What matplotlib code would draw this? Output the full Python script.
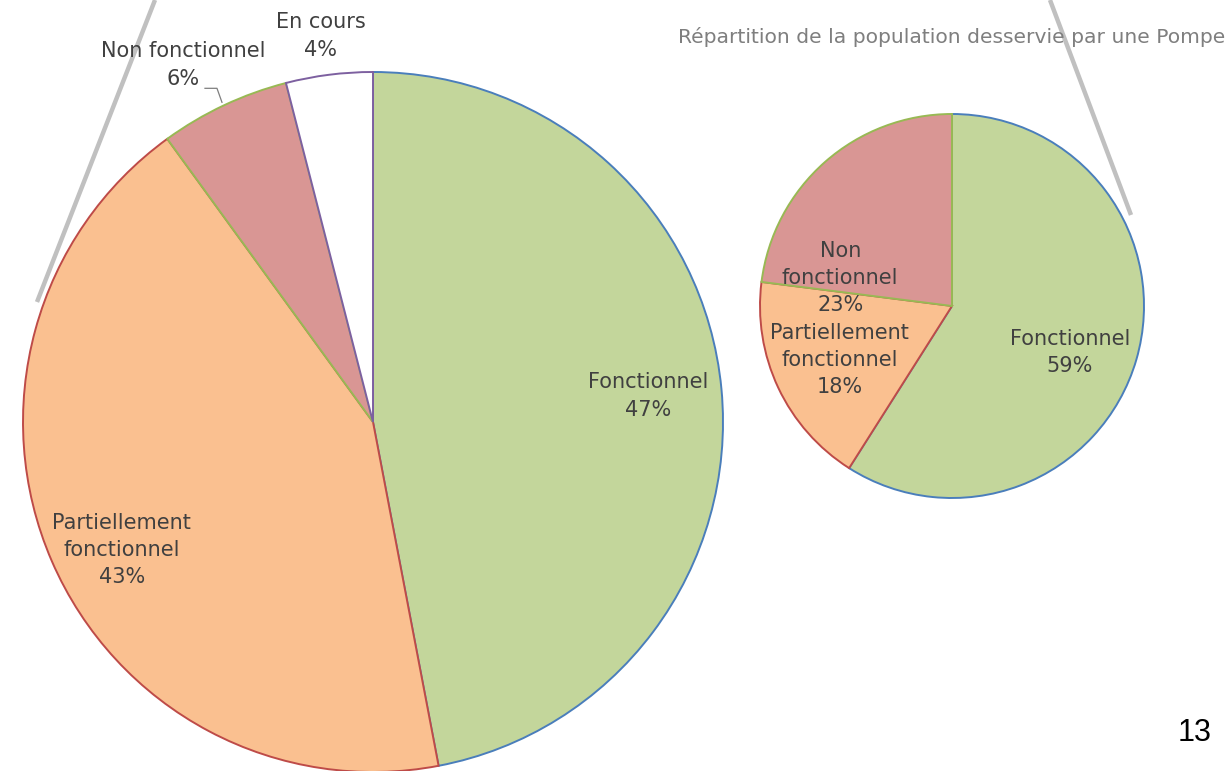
import numpy as np
import matplotlib
matplotlib.use("Agg")
import matplotlib.pyplot as plt

# data
big_labels = ["Fonctionnel", "Partiellement\nfonctionnel", "Non fonctionnel", "En cours"]
big_values = [47, 43, 6, 4]
small_labels = ["Fonctionnel", "Partiellement\nfonctionnel", "Non\nfonctionnel"]
small_values = [59, 18, 23]
small_title = "Répartition de la population desservie par une Pompe"
page_number = "13"

# style
fills = ["#C3D69B", "#FAC090", "#D99694", "#FFFFFF"]
edges = ["#4A7EBB", "#BE4B48", "#98B954", "#7D60A0"]
text_col = "#404040"

W, H = 1231, 771
fig = plt.figure(figsize=(W / 100, H / 100), dpi=100)
ax = fig.add_axes([0, 0, 1, 1])


def draw_pie(values, labels, center, radius, label_layout):
    wedges, _ = ax.pie(values, colors=fills[:len(values)], startangle=90,
                       counterclock=False, center=center, radius=radius,
                       wedgeprops=dict(linewidth=1.4))
    for i, w in enumerate(wedges):
        w.set_edgecolor(edges[i])
    for w, lab, v, (dist, off) in zip(wedges, labels, values, label_layout):
        mid = np.deg2rad((w.theta1 + w.theta2) / 2 + off)
        x = center[0] + dist * radius * np.cos(mid)
        y = center[1] + dist * radius * np.sin(mid)
        ax.text(x, y, f"{lab}\n{v}%", ha="center", va="center",
                fontsize=15, color=text_col, linespacing=1.45)
    return wedges


big_c = (373, H - 422)
big_r = 350
wb = draw_pie(big_values, big_labels, big_c, big_r,
              [(0.79, 0.0), (0.806, 3.6), (1.155, 2.8), (1.113, 0.5)])

small_c = (952, H - 306)
small_r = 192
draw_pie(small_values, small_labels, small_c, small_r,
         [(0.66, -5.5), (0.65, 0.5), (0.60, 34.6)])

# leader line for "Non fonctionnel"
w = wb[2]
mid = np.deg2rad((w.theta1 + w.theta2) / 2)
ex = big_c[0] + big_r * np.cos(mid)
ey = big_c[1] + big_r * np.sin(mid)
ax.plot([ex - 19, ex - 7, ex - 2], [ey + 17, ey + 17, ey + 3],
        color="#7F7F7F", lw=0.9)

# slide zoom lines
ax.plot([155, 37], [H, H - 302], color="#C0C0C0", lw=3.2, solid_capstyle="butt")
ax.plot([1050, 1131], [H, H - 215], color="#C0C0C0", lw=3.2, solid_capstyle="butt")

ax.text(678, H - 37, small_title, ha="left", va="center", fontsize=14.6,
        color="#7F7F7F")
ax.text(1195, H - 733, page_number, ha="center", va="center", fontsize=22,
        color="black", family="Liberation Sans")

ax.set_xlim(0, W)
ax.set_ylim(0, H)
ax.set_aspect("equal")
ax.axis("off")

fig.savefig("out.png", dpi=100)
